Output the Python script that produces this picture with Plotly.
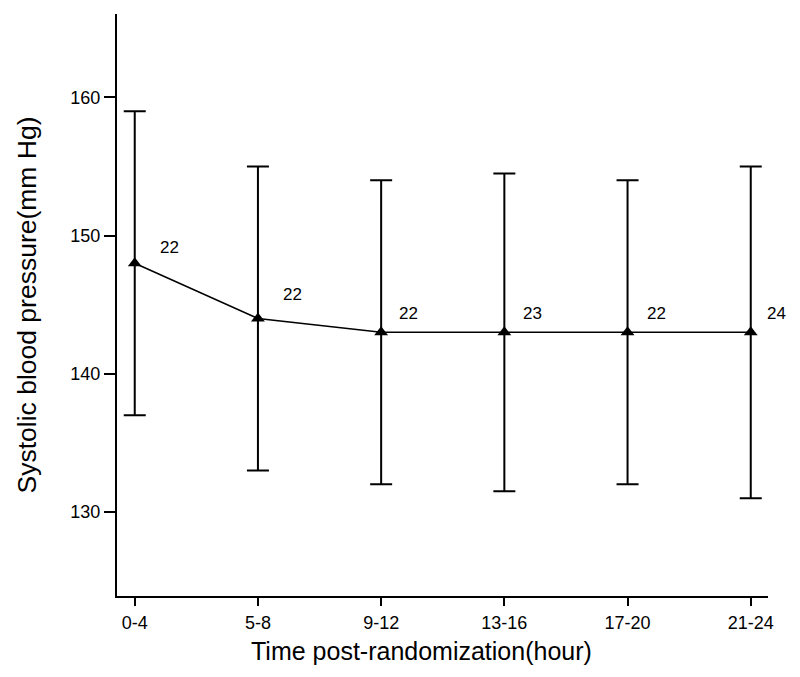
import plotly.graph_objects as go

# Data
time_labels = ["0-4", "5-8", "9-12", "13-16", "17-20", "21-24"]
mean_sbp = [148, 144, 143, 143, 143, 143]
upper_sbp = [159, 155, 154, 154.5, 154, 155]
lower_sbp = [137, 133, 132, 131.5, 132, 131]
n_labels = ["22", "22", "22", "23", "22", "24"]
y_tick_vals = [130, 140, 150, 160]

# Styling offsets for n labels (pixels)
label_dx = [35, 35, 27, 28, 29, 26]
label_dy = [16, 24, 19, 19, 19, 19]

x_idx = list(range(len(time_labels)))
err_plus = [u - m for u, m in zip(upper_sbp, mean_sbp)]
err_minus = [m - l for m, l in zip(mean_sbp, lower_sbp)]

FONT = "Liberation Sans, Arial, Helvetica, sans-serif"

fig = go.Figure()
fig.add_trace(go.Scatter(
    x=x_idx, y=mean_sbp,
    mode="lines+markers",
    line=dict(color="black", width=1.5),
    marker=dict(symbol="triangle-up", size=12, color="black"),
    error_y=dict(type="data", symmetric=False, array=err_plus, arrayminus=err_minus,
                 color="black", thickness=2, width=11),
    showlegend=False,
    hoverinfo="skip",
))

for xi, m, t, dx, dy in zip(x_idx, mean_sbp, n_labels, label_dx, label_dy):
    fig.add_annotation(x=xi, y=m, text=t, showarrow=False,
                       xshift=dx, yshift=dy,
                       font=dict(family=FONT, size=17, color="black"))

# x-axis title (placed slightly left of centre, as in the original)
fig.add_annotation(xref="paper", yref="paper", x=0.467, y=-0.094,
                   xanchor="center", yanchor="middle", showarrow=False,
                   text="Time post-randomization(hour)",
                   font=dict(family=FONT, size=25, color="black"))

fig.update_layout(
    width=800, height=677,
    margin=dict(l=109, r=40, t=6, b=89),
    paper_bgcolor="white", plot_bgcolor="white",
    font=dict(family=FONT, color="black"),
)
fig.update_xaxes(
    range=[-0.144, 5.14],
    tickvals=x_idx, ticktext=time_labels,
    showline=True, linecolor="black", linewidth=2,
    ticks="outside", ticklen=8, tickwidth=2, tickcolor="black",
    tickfont=dict(size=18, family=FONT),
    ticklabelstandoff=1,
    showgrid=False, zeroline=False,
)
fig.update_yaxes(
    range=[123.92, 166.04],
    tickvals=y_tick_vals,
    showline=True, linecolor="black", linewidth=2,
    ticks="outside", ticklen=11, tickwidth=2, tickcolor="black",
    tickfont=dict(size=18, family=FONT),
    ticklabelstandoff=0,
    showgrid=False, zeroline=False,
    title=dict(text="Systolic blood pressure(mm Hg)", font=dict(size=26.5, family=FONT), standoff=26),
)

fig.write_html("out.html")
